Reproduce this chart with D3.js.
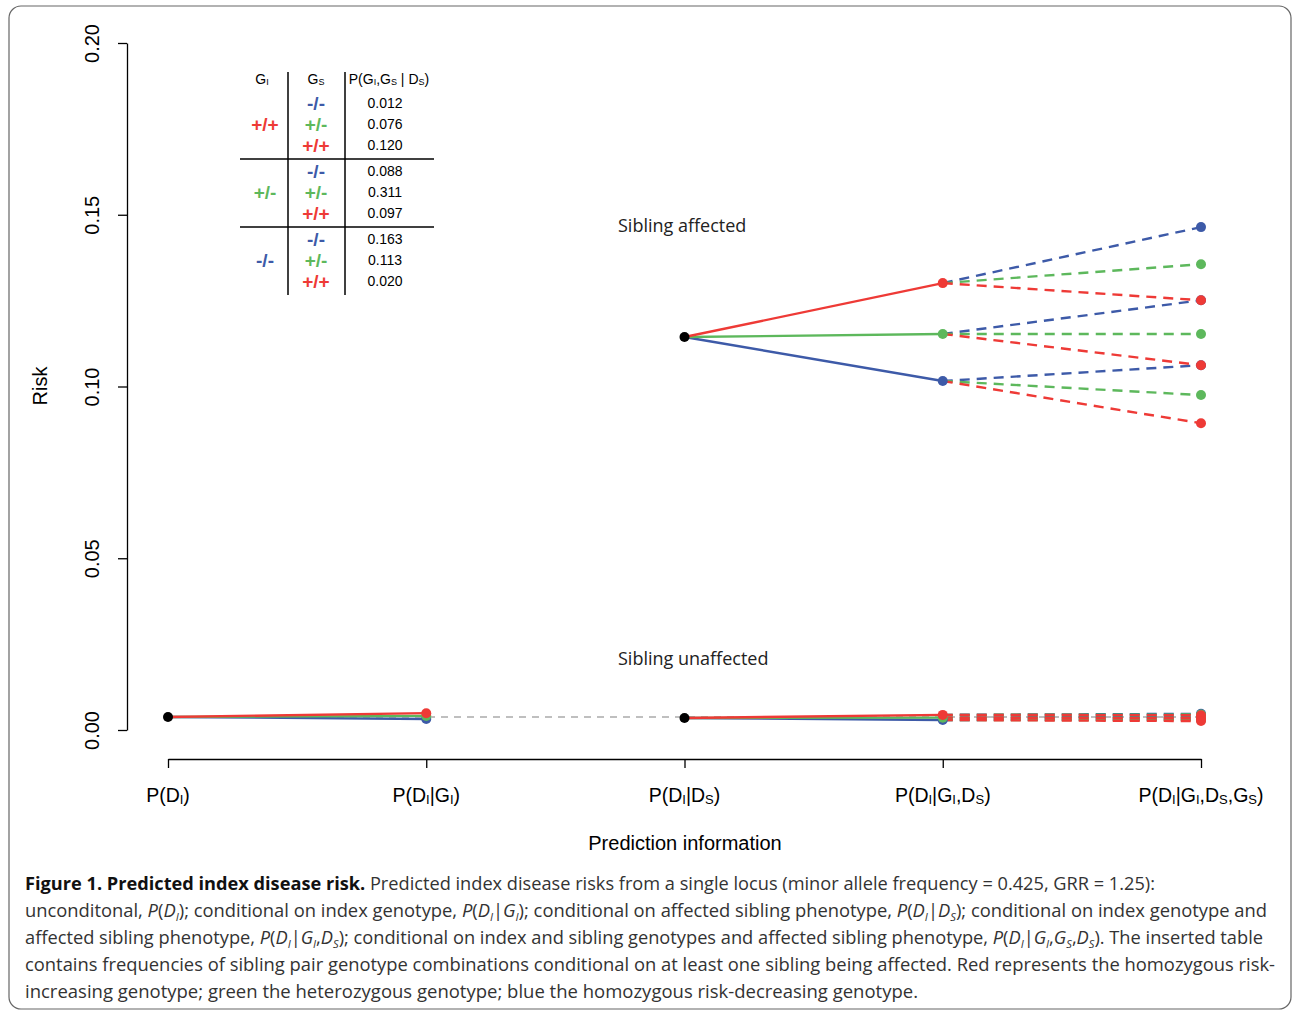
<!DOCTYPE html>
<html>
<head>
<meta charset="utf-8">
<script src="https://cdn.jsdelivr.net/npm/d3@7"></script>
<style>
body { margin: 0; background: #fff; }
</style>
</head>
<body>
<svg id="fig" width="1292" height="1011"></svg>
<script>
// stages on the x axis (each label is a list of [text, isSubscript])
var stageLabels = [
    [["P(D", 0], ["I", 1], [")", 0]],
    [["P(D", 0], ["I", 1], ["|G", 0], ["I", 1], [")", 0]],
    [["P(D", 0], ["I", 1], ["|D", 0], ["S", 1], [")", 0]],
    [["P(D", 0], ["I", 1], ["|G", 0], ["I", 1], [",D", 0], ["S", 1], [")", 0]],
    [["P(D", 0], ["I", 1], ["|G", 0], ["I", 1], [",D", 0], ["S", 1], [",G", 0], ["S", 1], [")", 0]]
];
var yTicks = [0, 0.05, 0.10, 0.15, 0.20];

// genotype order: +/+ (red), +/- (green), -/- (blue)
var genotypes = ["+/+", "+/-", "-/-"];
var genoColors = {"+/+": "#ee3a36", "+/-": "#5db85c", "-/-": "#3d5aa8"};

// baseline risk
var pD = 0.0038;
var pD_G = [0.0049, 0.0041, 0.0032];

// sibling unaffected
var unaffDS = 0.0035;
var unaffGDS = [0.0044, 0.0036, 0.0029];
// rows: index genotype (+/+, +/-, -/-), cols: sibling genotype (-/-, +/-, +/+)
var unaffFinal = [[0.0047, 0.0045, 0.0043],
                  [0.0039, 0.0036, 0.0034],
                  [0.0031, 0.0029, 0.0026]];

// sibling affected
var affDS = 0.1144;
var affGDS = [0.1301, 0.1153, 0.1016];
var affFinal = [[0.1464, 0.1356, 0.1251],
                [0.1251, 0.1153, 0.1062],
                [0.1062, 0.0975, 0.0893]];
var sibOrder = ["-/-", "+/-", "+/+"];

// inserted table
var tableGI = ["+/+", "+/-", "-/-"];
var tableGS = ["-/-", "+/-", "+/+"];
var tableFreq = [["0.012", "0.076", "0.120"],
                 ["0.088", "0.311", "0.097"],
                 ["0.163", "0.113", "0.020"]];

var svg = d3.select("#fig");
var chartFont = "Liberation Sans, Arial, sans-serif";
var capFont = "Open Sans, Noto Sans, sans-serif";

// frame
svg.append("rect")
    .attr("x", 9).attr("y", 6)
    .attr("width", 1282).attr("height", 1003)
    .attr("rx", 12).attr("ry", 12)
    .attr("fill", "none")
    .attr("stroke", "#666")
    .attr("stroke-width", 1.2);

var x = d3.scalePoint()
    .domain(d3.range(stageLabels.length))
    .range([168, 1201]);
var y = d3.scaleLinear()
    .domain([0, 0.2])
    .range([730, 43]);

function addParts(text, parts, size, subSize, subDy) {
    var shifted = false;
    parts.forEach(function(p) {
        var t = text.append("tspan").text(p[0]);
        if (p[1]) {
            t.attr("font-size", subSize).attr("dy", shifted ? 0 : subDy);
            shifted = true;
        } else {
            t.attr("font-size", size);
            if (shifted) { t.attr("dy", -subDy); shifted = false; }
        }
    });
}

// y axis
var yAxis = d3.axisLeft(y).tickValues(yTicks).tickSize(9).tickSizeOuter(0)
    .tickFormat(d3.format(".2f"));
var gy = svg.append("g")
    .attr("transform", "translate(127,0)")
    .call(yAxis);
gy.select(".domain").attr("stroke", "#000").attr("stroke-width", 1.3);
gy.selectAll(".tick line").attr("stroke", "#000").attr("stroke-width", 1.3);
gy.selectAll(".tick text")
    .attr("font-family", chartFont)
    .attr("font-size", 20)
    .attr("fill", "#000")
    .attr("x", 0).attr("dy", 0)
    .attr("text-anchor", "middle")
    .attr("transform", "translate(-28,0) rotate(-90)");

// x axis
var xAxis = d3.axisBottom(x).tickSize(9).tickSizeOuter(0).tickFormat("");
var gx = svg.append("g")
    .attr("transform", "translate(0,759)")
    .call(xAxis);
gx.select(".domain").attr("stroke", "#000").attr("stroke-width", 1.3);
gx.selectAll(".tick line").attr("stroke", "#000").attr("stroke-width", 1.3);
stageLabels.forEach(function(parts, i) {
    var t = svg.append("text")
        .attr("x", x(i)).attr("y", 802)
        .attr("text-anchor", "middle")
        .attr("font-family", chartFont)
        .attr("fill", "#000");
    addParts(t, parts, 19.5, 13, 2);
});

svg.append("text")
    .attr("x", 685).attr("y", 850)
    .attr("text-anchor", "middle")
    .attr("font-family", chartFont).attr("font-size", 20)
    .text("Prediction information");
svg.append("text")
    .attr("transform", "translate(47,386) rotate(-90)")
    .attr("text-anchor", "middle")
    .attr("font-family", chartFont).attr("font-size", 20)
    .text("Risk");

// lines
var plot = svg.append("g");
function seg(x1, v1, x2, v2, color, dashed) {
    plot.append("line")
        .attr("x1", x(x1)).attr("y1", y(v1))
        .attr("x2", x(x2)).attr("y2", y(v2))
        .attr("stroke", color)
        .attr("stroke-width", 2.4)
        .attr("stroke-dasharray", dashed ? "10,7" : null);
}
function dot(xi, v, color) {
    plot.append("circle")
        .attr("cx", x(xi)).attr("cy", y(v))
        .attr("r", 5)
        .attr("fill", color);
}

// baseline reference
plot.append("line")
    .attr("x1", x(0)).attr("y1", y(pD))
    .attr("x2", x(4)).attr("y2", y(pD))
    .attr("stroke", "#aaa").attr("stroke-width", 1.5)
    .attr("stroke-dasharray", "7,6");

// P(DI) -> P(DI|GI)
[2, 1, 0].forEach(function(g) { seg(0, pD, 1, pD_G[g], genoColors[genotypes[g]], false); });
[2, 1, 0].forEach(function(g) { dot(1, pD_G[g], genoColors[genotypes[g]]); });
dot(0, pD, "#000");

function branch(ds, gds, fin) {
    [2, 1, 0].forEach(function(g) { seg(2, ds, 3, gds[g], genoColors[genotypes[g]], false); });
    sibOrder.forEach(function(s, k) {
        gds.forEach(function(v, g) { seg(3, v, 4, fin[g][k], genoColors[s], true); });
    });
    sibOrder.forEach(function(s, k) {
        gds.forEach(function(v, g) { dot(4, fin[g][k], genoColors[s]); });
    });
    [2, 1, 0].forEach(function(g) { dot(3, gds[g], genoColors[genotypes[g]]); });
    dot(2, ds, "#000");
}
branch(unaffDS, unaffGDS, unaffFinal);
branch(affDS, affGDS, affFinal);

svg.append("text")
    .attr("x", 618).attr("y", 232)
    .attr("font-family", capFont).attr("font-size", 18)
    .attr("fill", "#222")
    .text("Sibling affected");
svg.append("text")
    .attr("x", 618).attr("y", 665)
    .attr("font-family", capFont).attr("font-size", 18)
    .attr("fill", "#222")
    .text("Sibling unaffected");

// inserted table
var tab = svg.append("g").attr("font-family", chartFont);
var colGI = 262, colGS = 316, colP = 385;
function rowY(g, r) { return 103 + g * 68 + r * 21; }

var h1 = tab.append("text").attr("x", colGI).attr("y", 84).attr("text-anchor", "middle");
addParts(h1, [["G", 0], ["I", 1]], 14, 9, 1);
var h2 = tab.append("text").attr("x", colGS).attr("y", 84).attr("text-anchor", "middle");
addParts(h2, [["G", 0], ["S", 1]], 14, 9, 1);
var h3 = tab.append("text").attr("x", 389).attr("y", 84).attr("text-anchor", "middle");
addParts(h3, [["P(G", 0], ["I", 1], [",G", 0], ["S", 1], [" | D", 0], ["S", 1], [")", 0]], 14, 9, 1);

tab.append("line").attr("x1", 288).attr("x2", 288).attr("y1", 72).attr("y2", 295)
    .attr("stroke", "#000").attr("stroke-width", 1.5);
tab.append("line").attr("x1", 345).attr("x2", 345).attr("y1", 72).attr("y2", 295)
    .attr("stroke", "#000").attr("stroke-width", 1.5);
[159, 227].forEach(function(ly) {
    tab.append("line").attr("x1", 240).attr("x2", 434).attr("y1", ly).attr("y2", ly)
        .attr("stroke", "#000").attr("stroke-width", 1.5);
});

tableGI.forEach(function(gi, g) {
    tab.append("text")
        .attr("x", colGI + 3).attr("y", rowY(g, 1) + 7)
        .attr("text-anchor", "middle")
        .attr("font-size", 19)
        .attr("font-weight", "bold")
        .attr("fill", genoColors[gi])
        .text(gi);
    tableGS.forEach(function(gs, r) {
        tab.append("text")
            .attr("x", colGS).attr("y", rowY(g, r) + 7)
            .attr("text-anchor", "middle")
            .attr("font-size", 19)
            .attr("font-weight", "bold")
            .attr("fill", genoColors[gs])
            .text(gs);
        tab.append("text")
            .attr("x", colP).attr("y", rowY(g, r) + 5)
            .attr("text-anchor", "middle")
            .attr("font-size", 14)
            .attr("fill", "#000")
            .text(tableFreq[g][r]);
    });
});

// caption: [text, style] style: b bold, n normal, i italic, s italic subscript
var captionLines = [
    [["Figure 1. Predicted index disease risk.", "b"], [" Predicted index disease risks from a single locus (minor allele frequency = 0.425, GRR = 1.25):", "n"]],
    [["unconditonal, ", "n"], ["P", "i"], ["(", "n"], ["D", "i"], ["I", "s"], ["); conditional on index genotype, ", "n"], ["P", "i"], ["(", "n"], ["D", "i"], ["I", "s"], ["|", "n"], ["G", "i"], ["I", "s"], ["); conditional on affected sibling phenotype, ", "n"], ["P", "i"], ["(", "n"], ["D", "i"], ["I", "s"], ["|", "n"], ["D", "i"], ["S", "s"], ["); conditional on index genotype and", "n"]],
    [["affected sibling phenotype, ", "n"], ["P", "i"], ["(", "n"], ["D", "i"], ["I", "s"], ["|", "n"], ["G", "i"], ["I", "s"], [",", "n"], ["D", "i"], ["S", "s"], ["); conditional on index and sibling genotypes and affected sibling phenotype, ", "n"], ["P", "i"], ["(", "n"], ["D", "i"], ["I", "s"], ["|", "n"], ["G", "i"], ["I", "s"], [",", "n"], ["G", "i"], ["S", "s"], [",", "n"], ["D", "i"], ["S", "s"], ["). The inserted table", "n"]],
    [["contains frequencies of sibling pair genotype combinations conditional on at least one sibling being affected. Red represents the homozygous risk-", "n"]],
    [["increasing genotype; green the heterozygous genotype; blue the homozygous risk-decreasing genotype.", "n"]]
];
var captionWidths = [1130, 1242, 1238, 1250, 893];

captionLines.forEach(function(parts, li) {
    var t = svg.append("text")
        .attr("x", 25).attr("y", 890 + li * 27)
        .attr("font-family", capFont)
        .attr("font-size", 18)
        .attr("fill", "#333")
        .attr("textLength", captionWidths[li])
        .attr("lengthAdjust", "spacingAndGlyphs");
    var shifted = false;
    parts.forEach(function(p) {
        var ts = t.append("tspan").text(p[0]);
        if (p[1] === "b") ts.attr("font-weight", "bold").attr("fill", "#111");
        if (p[1] === "i") ts.attr("font-style", "italic");
        if (p[1] === "s") {
            ts.attr("font-style", "italic").attr("font-size", 11).attr("dy", 4);
            shifted = true;
        } else if (shifted) {
            ts.attr("dy", -4);
            shifted = false;
        }
    });
});
</script>
</body>
</html>
